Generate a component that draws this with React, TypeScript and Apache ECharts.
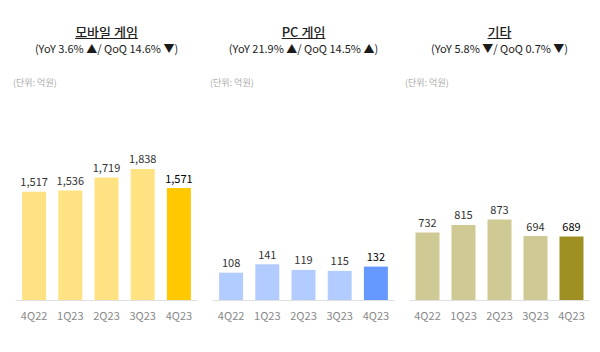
import React, { useEffect, useRef } from "react";
import * as echarts from "echarts";

const categories = ["4Q22", "1Q23", "2Q23", "3Q23", "4Q23"];
const mobileValues = [1517, 1536, 1719, 1838, 1571];
const pcValues = [108, 141, 119, 115, 132];
const otherValues = [732, 815, 873, 694, 689];
const titles = ["모바일 게임", "PC 게임", "기타"];
const subtitles = [
  "(YoY 3.6% ▲/ QoQ 14.6% ▼)",
  "(YoY 21.9% ▲/ QoQ 14.5% ▲)",
  "(YoY 5.8% ▼/ QoQ 0.7% ▼)",
];
const unitLabel = "(단위: 억원)";

const FONT = "'Noto Sans CJK KR', 'Noto Sans', sans-serif";

function measure(text: string, size: number, weight: string) {
  const c = document.createElement("canvas").getContext("2d");
  if (!c) return text.length * size * 0.8;
  c.font = `${weight} ${size}px 'Noto Sans CJK KR'`;
  return c.measureText(text).width;
}

export default function App() {
  const ref = useRef<HTMLDivElement>(null);
  useEffect(() => {
    if (!ref.current) return;
    const chart = echarts.init(ref.current, undefined, { renderer: "svg" });
    const panels = [
      { left: 16, width: 181, max: 2805, values: mobileValues, light: "#FFE383", dark: "#FFC800", unitX: 13 },
      { left: 213, width: 181, max: 790, values: pcValues, light: "#B3CCFF", dark: "#6699FF", unitX: 210 },
      { left: 409.5, width: 180, max: 2170, values: otherValues, light: "#CFC993", dark: "#9E8F22", unitX: 405 },
    ];
    const graphics: any[] = [];
    panels.forEach((p, i) => {
      const cx = p.left + p.width / 2;
      const tw = measure(titles[i], 13, "500");
      graphics.push(
        { type: "text", x: cx, y: 31.5, style: { text: titles[i], font: `500 13px ${FONT}`, fill: "#222", align: "center", verticalAlign: "middle" } },
        { type: "line", shape: { x1: cx - tw / 2, y1: 38.5, x2: cx + tw / 2, y2: 38.5 }, style: { stroke: "#222", lineWidth: 1 } },
        { type: "text", x: cx, y: 48, style: { text: subtitles[i], font: `11px ${FONT}`, fill: "#1a1a1a", align: "center", verticalAlign: "middle" } },
        { type: "text", x: p.unitX, y: 82, style: { text: unitLabel, font: `9px ${FONT}`, fill: "#aaa", align: "left", verticalAlign: "middle" } }
      );
    });
    chart.setOption({
      animation: false,
      grid: panels.map((p) => ({ left: p.left, width: p.width, top: 100, height: 200 })),
      xAxis: panels.map((p, i) => ({
        type: "category",
        gridIndex: i,
        data: categories,
        axisLine: { lineStyle: { color: "#e0e0e0", width: 1 } },
        axisTick: { show: false },
        axisLabel: { color: "#888", fontSize: 11, fontFamily: FONT, margin: 9 },
      })),
      yAxis: panels.map((p, i) => ({
        type: "value",
        gridIndex: i,
        min: 0,
        max: p.max,
        show: false,
        splitLine: { show: false },
      })),
      series: panels.map((p, i) => ({
        type: "bar",
        xAxisIndex: i,
        yAxisIndex: i,
        barWidth: 24,
        data: p.values.map((v, j) => ({
          value: v,
          itemStyle: { color: j === p.values.length - 1 ? p.dark : p.light },
          label: j === p.values.length - 1 ? { color: "#000" } : undefined,
        })),
        label: {
          show: true,
          position: "top",
          distance: 5,
          color: "#333",
          fontSize: 11,
          fontFamily: FONT,
          formatter: (d: any) => Number(d.value).toLocaleString("en-US"),
        },
      })),
      graphic: graphics,
    });
    return () => chart.dispose();
  }, []);
  return <div ref={ref} style={{ width: 600, height: 352, position: "absolute", left: 0, top: 0, background: "#fff" }} />;
}
